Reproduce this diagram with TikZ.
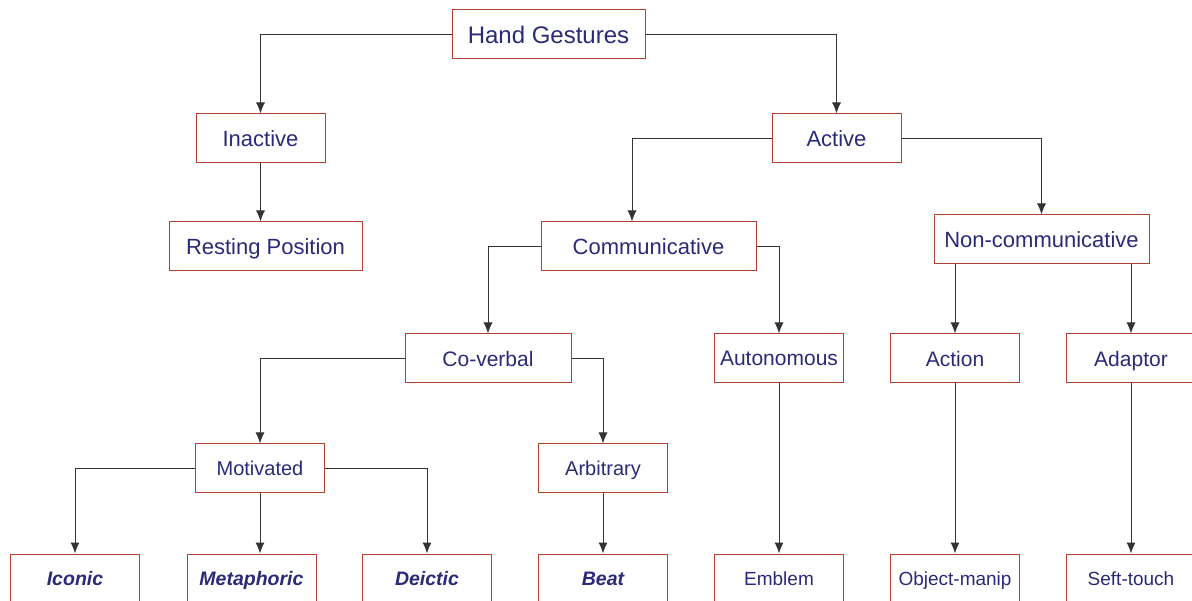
\documentclass[tikz,border=0pt]{standalone}
\usepackage{fontspec}
\setmainfont{Liberation Sans}
\usetikzlibrary{arrows.meta}
\definecolor{boxred}{RGB}{176,66,48}
\definecolor{navy}{RGB}{42,42,122}
\tikzset{
  gbox/.style={draw=boxred, line width=1pt, fill=white, text=navy, inner sep=0pt,
    minimum height=49pt, anchor=center, text depth=0pt},
  wA/.style={minimum width=129pt},
  conn/.style={draw=black!80, line width=1pt, -{Latex[length=11pt,width=9pt]}},
  fA/.style={font=\fontsize{24pt}{28pt}\selectfont},
  fB/.style={font=\fontsize{22pt}{26pt}\selectfont},
  fC/.style={font=\fontsize{21pt}{25pt}\selectfont},
  fD/.style={font=\fontsize{20pt}{24pt}\selectfont},
  fE/.style={font=\fontsize{19pt}{23pt}\selectfont},
  fEb/.style={font=\fontsize{19.5pt}{23pt}\selectfont\bfseries\itshape},
}
\begin{document}
\begin{tikzpicture}[x=1pt,y=-1pt]
\useasboundingbox (0,0) rectangle (1192,601);
\begin{scope}
\clip (0,0) rectangle (1192,601);
\node[gbox,fA,minimum width=193pt] (hg) at (548.5,34.5) {Hand Gestures};
\node[gbox,fB,wA] (in) at (260.5,138.5) {Inactive};
\node[gbox,fB,wA] (ac) at (836.5,138.5) {Active};
\node[gbox,fB,minimum width=193pt] (rp) at (265.5,246.5) {Resting Position};
\node[gbox,fB,minimum width=215pt] (cm) at (648.5,246.5) {Communicative};
\node[gbox,fB,minimum width=215pt] (nc) at (1041.5,239.5) {Non-communicative};
\node[gbox,fC,minimum width=166pt] (cv) at (488,358.5) {Co-verbal};
\node[gbox,fC,wA] (au) at (779,358.5) {Autonomous};
\node[gbox,fC,wA] (at) at (955,358.5) {Action};
\node[gbox,fC,wA] (ad) at (1131,358.5) {Adaptor};
\node[gbox,fD,wA] (mo) at (260,468.5) {Motivated};
\node[gbox,fD,wA] (ar) at (603,468.5) {Arbitrary};
\node[gbox,fEb,wA] (ic) at (75,578.5) {Iconic};
\node[gbox,fEb,wA] (me) at (251.5,578.5) {Metaphoric};
\node[gbox,fEb,wA] (de) at (427,578.5) {Deictic};
\node[gbox,fEb,wA] (be) at (603,578.5) {Beat};
\node[gbox,fE,wA] (em) at (779,578.5) {Emblem};
\node[gbox,fE,wA] (om) at (955,578.5) {Object-manip};
\node[gbox,fE,wA] (st) at (1131,578.5) {Seft-touch};

\draw[conn] (hg.west) -| (in.north);
\draw[conn] (hg.east) -| (ac.north);
\draw[conn] (in.south) -- (in.south |- rp.north);
\draw[conn] (ac.west) -| ([xshift=-16.5pt]cm.north);
\draw[conn] (ac.east) -| (nc.north);
\draw[conn] (cm.west) -| (cv.north);
\draw[conn] (cm.east) -| (au.north);
\draw[conn] (at.north |- nc.south) -- (at.north);
\draw[conn] (ad.north |- nc.south) -- (ad.north);
\draw[conn] (cv.west) -| (mo.north);
\draw[conn] (cv.east) -| (ar.north);
\draw[conn] (au.south) -- (em.north);
\draw[conn] (at.south) -- (om.north);
\draw[conn] (ad.south) -- (st.north);
\draw[conn] (mo.west) -| (ic.north);
\draw[conn] (mo.south) -- (mo.south |- me.north);
\draw[conn] (mo.east) -| (de.north);
\draw[conn] (ar.south) -- (be.north);
\end{scope}
\end{tikzpicture}
\end{document}
